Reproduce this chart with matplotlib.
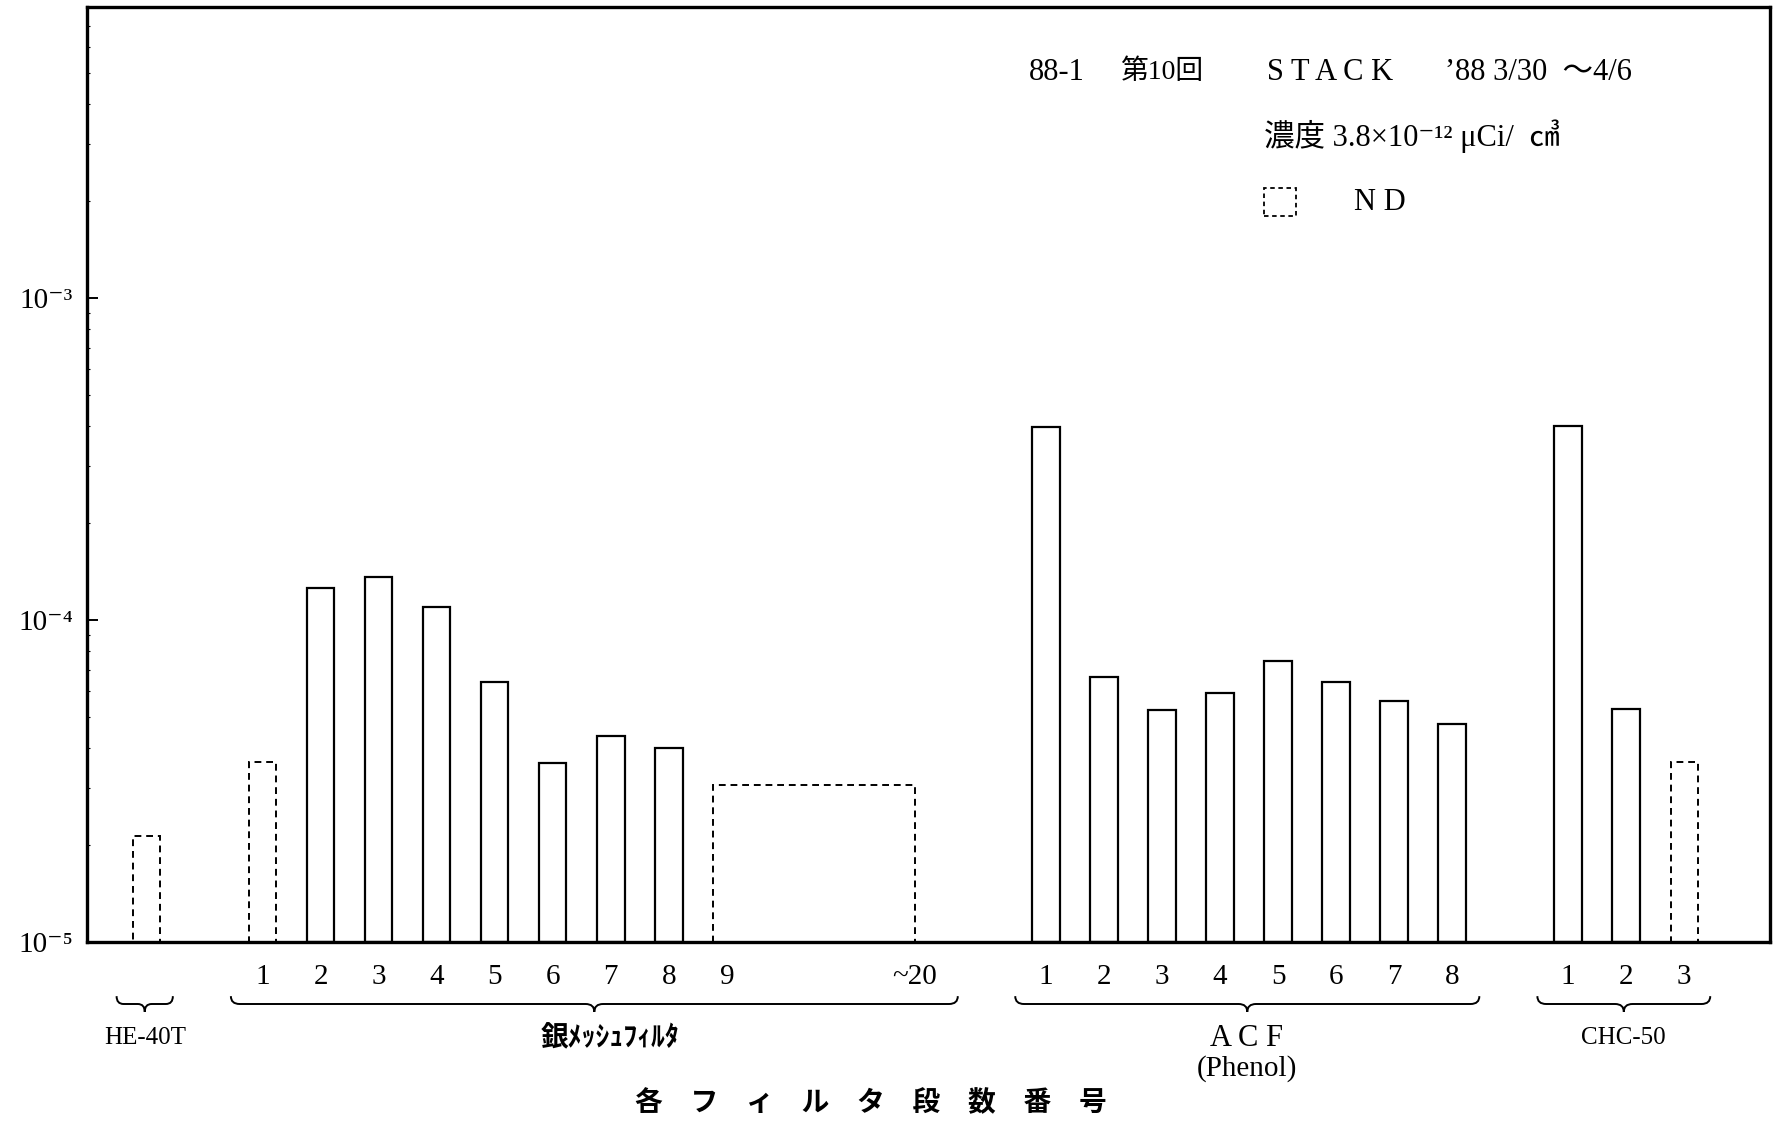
import matplotlib
matplotlib.use("Agg")
import matplotlib.pyplot as plt
import matplotlib.transforms as mtransforms
from matplotlib.path import Path
from matplotlib.patches import PathPatch, Rectangle
from matplotlib.ticker import LogLocator, NullFormatter

# values (log scale, 10^-5 .. ~8x10^-3)
he_nd_value = 2.13e-5

silver_labels = ["1", "2", "3", "4", "5", "6", "7", "8"]
silver_values = [3.62e-5, 1.26e-4, 1.36e-4, 1.10e-4, 6.42e-5, 3.60e-5, 4.36e-5, 4.00e-5]
silver_is_nd = [True, False, False, False, False, False, False, False]
silver_rest_labels = ["9", "~20"]
silver_rest_nd_value = 3.07e-5

acf_labels = ["1", "2", "3", "4", "5", "6", "7", "8"]
acf_values = [3.97e-4, 6.65e-5, 5.25e-5, 5.93e-5, 7.46e-5, 6.42e-5, 5.60e-5, 4.75e-5]

chc_labels = ["1", "2", "3"]
chc_values = [4.00e-4, 5.29e-5, 3.62e-5]
chc_is_nd = [False, False, True]

ytick_values = [1e-5, 1e-4, 1e-3]
ytick_labels = ["10⁻⁵", "10⁻⁴", "10⁻³"]

LATIN = ["Liberation Serif", "Noto Sans CJK JP", "DejaVu Sans"]
JP = ["Noto Sans CJK JP", "DejaVu Sans"]

W, H = 1777, 1121
YMIN, YMAX = 1e-5, 8.0e-3
BAR_W = 0.47


def fx(px):
    return px / W


def fy(py):
    return 1 - py / H


def draw_bars(ax, xs, values, nd_flags):
    for x, v, nd in zip(xs, values, nd_flags):
        if nd:
            ax.bar(x, v - YMIN, bottom=YMIN, width=BAR_W, facecolor="none",
                   edgecolor="black", linewidth=1.4, linestyle=(0, (3.5, 2.5)))
        else:
            ax.bar(x, v - YMIN, bottom=YMIN, width=BAR_W, facecolor="white",
                   edgecolor="black", linewidth=1.6)


def brace(ax, x0, x1, y, h=0.007, dx=0.15):
    trans = mtransforms.blended_transform_factory(ax.transData, ax.figure.transFigure)
    xm = (x0 + x1) / 2
    verts = [(x0, y + h), (x0, y), (x0 + dx, y),
             (xm - dx, y), (xm, y), (xm, y - h),
             (xm, y), (xm + dx, y),
             (x1 - dx, y), (x1, y), (x1, y + h)]
    codes = [Path.MOVETO, Path.CURVE3, Path.CURVE3,
             Path.LINETO, Path.CURVE3, Path.CURVE3,
             Path.CURVE3, Path.CURVE3,
             Path.LINETO, Path.CURVE3, Path.CURVE3]
    ax.add_patch(PathPatch(Path(verts, codes), transform=trans, facecolor="none",
                           edgecolor="black", linewidth=1.4, clip_on=False))


fig = plt.figure(figsize=(W / 100, H / 100), dpi=100)
ax = fig.add_axes([fx(87), fy(942), fx(1770) - fx(87), fy(7) - fy(942)])
ax.set_yscale("log")

# slot positions along the x axis
he_x = -1
silver_x = list(range(1, len(silver_labels) + 1))
silver_rest_x = [9, 12.24]
acf_x = [14.5 + i for i in range(len(acf_labels))]
chc_x = [23.5 + i for i in range(len(chc_labels))]

draw_bars(ax, [he_x], [he_nd_value], [True])
draw_bars(ax, silver_x, silver_values, silver_is_nd)
left = silver_rest_x[0] - BAR_W / 2
ax.bar(left, silver_rest_nd_value - YMIN, bottom=YMIN, width=silver_rest_x[1] - left,
       align="edge", facecolor="none", edgecolor="black", linewidth=1.4,
       linestyle=(0, (3.5, 2.5)))
draw_bars(ax, acf_x, acf_values, [False] * len(acf_values))
draw_bars(ax, chc_x, chc_values, chc_is_nd)

ax.set_xlim(-2.03, 26.98)
ax.set_ylim(YMIN, YMAX)

for s in ax.spines.values():
    s.set_linewidth(2.4)

ax.set_xticks(silver_x + silver_rest_x + acf_x + chc_x)
ax.set_xticklabels(silver_labels + silver_rest_labels + acf_labels + chc_labels,
                   family=LATIN, fontsize=21)
ax.tick_params(axis="x", length=0, pad=16)

ax.set_yticks(ytick_values)
ax.set_yticklabels(ytick_labels, family=LATIN, fontsize=21)
ax.yaxis.set_minor_locator(LogLocator(base=10, subs=range(2, 10)))
ax.yaxis.set_minor_formatter(NullFormatter())
ax.tick_params(axis="y", which="major", direction="in", length=8, width=1.4, pad=10)
ax.tick_params(axis="y", which="minor", direction="in", length=2, width=0.8)

# group braces and names under the numbers
brace_y = fy(1004)
brace(ax, -1.52, -0.55, brace_y, dx=0.12)
brace(ax, 0.45, 12.98, brace_y)
brace(ax, 13.97, 21.97, brace_y)
brace(ax, 22.97, 25.95, brace_y)

fig.text(fx(145), fy(1038), "HE-40T", family=LATIN, fontsize=18, ha="center", va="center")
fig.text(fx(610), fy(1038), "銀ﾒｯｼｭﾌｨﾙﾀ", family=JP, fontsize=20, ha="center",
         va="center", fontweight="bold")
fig.text(fx(1247), fy(1038), "A C F", family=LATIN, fontsize=22, ha="center", va="center")
fig.text(fx(1247), fy(1069), "(Phenol)", family=LATIN, fontsize=21, ha="center", va="center")
fig.text(fx(1623), fy(1038), "CHC-50", family=LATIN, fontsize=18, ha="center", va="center")

fig.text(fx(871), fy(1103), "各　フ　ィ　ル　タ　段　数　番　号", family=JP, fontsize=20,
         ha="center", va="center", fontweight="bold")

# header block, top right
fig.text(fx(1029), fy(72), "88-1", family=LATIN, fontsize=22, va="center")
fig.text(fx(1120), fy(72), "第10回", family=LATIN, fontsize=20, va="center")
fig.text(fx(1267), fy(72), "S T A C K", family=LATIN, fontsize=22, va="center")
fig.text(fx(1445), fy(72), "’88 3/30  ～4/6", family=LATIN, fontsize=22, va="center")
fig.text(fx(1264), fy(136), "濃度 3.8×10⁻¹² μCi/  ㎤", family=LATIN, fontsize=22, va="center")
fig.patches.append(Rectangle((fx(1264), fy(216)), fx(1296) - fx(1264), fy(188) - fy(216),
                             transform=fig.transFigure, facecolor="none", edgecolor="black",
                             linewidth=1.3, linestyle=(0, (2.5, 2))))
fig.text(fx(1354), fy(202), "N D", family=LATIN, fontsize=22, va="center")

fig.savefig("out.png", dpi=100, facecolor="white")
